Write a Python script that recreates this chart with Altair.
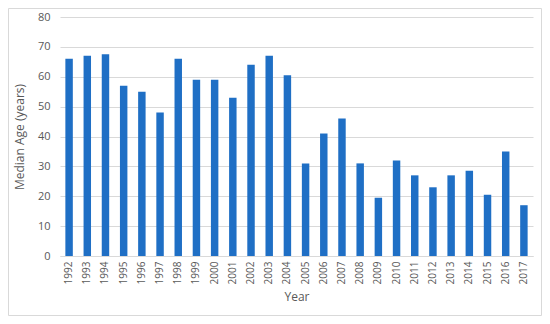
import altair as alt
import pandas as pd

years = [str(y) for y in range(1992, 2018)]
median_age = [66, 67, 67.5, 57, 55, 48, 66, 59, 59, 53, 64, 67, 60.5,
              31, 41, 46, 31, 19.5, 32, 27, 23, 27, 28.5, 20.5, 35, 17]

df = pd.DataFrame({"Year": years, "Age": median_age})

FONT = "Open Sans"
GRAY = "#595959"

bars = alt.Chart(df).mark_bar(color="#1f6fc5").encode(
    x=alt.X("Year:N", sort=None, title="Year",
            scale=alt.Scale(paddingInner=0.59, paddingOuter=0.295),
            axis=alt.Axis(labelAngle=-90, labelFont=FONT, labelFontSize=10,
                          labelColor=GRAY, ticks=False, domainColor="#d9d9d9",
                          grid=False, labelPadding=5, titleFont=FONT,
                          titleFontSize=12, titleFontWeight="normal",
                          titleColor=GRAY, titlePadding=8)),
    y=alt.Y("Age:Q", title="Median Age (years)",
            scale=alt.Scale(domain=[0, 80], nice=False),
            axis=alt.Axis(values=list(range(0, 81, 10)), labelFont=FONT,
                          labelFontSize=11, labelColor=GRAY, ticks=False,
                          domain=False, grid=True, gridColor="#d9d9d9",
                          labelPadding=10, titleFont=FONT, titleFontSize=12,
                          titleFontWeight="normal", titleColor=GRAY,
                          titlePadding=11)),
)

border = alt.Chart(df).mark_rect(fill=None, stroke="#d9d9d9", strokeWidth=1).encode(
    x=alt.value(-51.5), x2=alt.value(481.5), y=alt.value(-8.5), y2=alt.value(298.5)
).transform_filter("datum.Year == '1992'")

chart = alt.layer(border, bars).properties(
    width=473, height=239,
    autosize=alt.AutoSizeParams(type="none"),
    padding={"left": 52, "top": 9, "right": 9, "bottom": 60},
).configure_view(stroke=None)

chart.save("out.html", embed_options={"renderer": "svg", "actions": False})
